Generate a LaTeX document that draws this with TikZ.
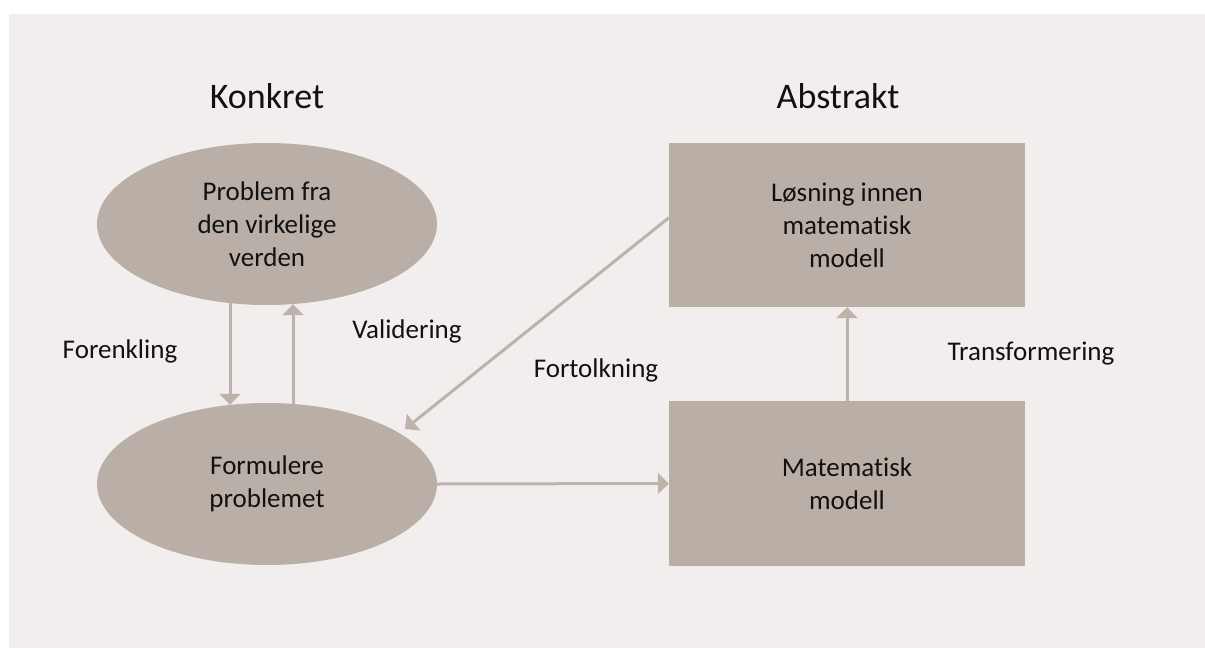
\documentclass[tikz,border=0pt]{standalone}
\usepackage{fontspec}
\setmainfont{Carlito}[Ligatures={NoCommon}]
\usetikzlibrary{shapes.geometric,arrows.meta}
\definecolor{bgc}{HTML}{F2EEED}
\definecolor{fillc}{HTML}{B9AFA7}
\definecolor{linec}{HTML}{BDB3AB}
\definecolor{txt}{HTML}{111111}
\tikzset{
  shapefill/.style={fill=fillc, draw=none, inner sep=0pt, align=center, text=txt,
    font=\fontsize{27}{33}\selectfont},
  oval/.style={shapefill, ellipse, minimum width=340pt, minimum height=162pt},
  box/.style={shapefill, rectangle, minimum width=356pt, minimum height=164pt},
  arr/.style={draw=linec, line width=3pt, -{Triangle[length=11pt,width=21pt]}},
  lbl/.style={text=txt, font=\fontsize{27}{33}\selectfont, anchor=base, inner sep=0pt},
  ttl/.style={text=txt, font=\fontsize{36}{40}\selectfont, anchor=base, inner sep=0pt}
}
\begin{document}
\begin{tikzpicture}[x=1pt,y=-1pt]
\useasboundingbox (0,0) rectangle (1205,648);
\fill[white] (0,0) rectangle (1205,648);
\fill[bgc] (9,14) rectangle (1205,648);

\node[ttl] (konkret) at (267,108) {Konkret};
\node[ttl] (abstrakt) at (838,108) {Abstrakt};

\node[oval] (prob) at (267,224) {Problem fra\\den virkelige\\verden};
\node[oval] (form) at (267,484) {Formulere\\problemet};
\node[box] (los) at (847,225) {Løsning innen\\matematisk\\modell};
\node[box, minimum height=165pt] (mat) at (847,483.5) {Matematisk\\modell};

\node[lbl] (forenkling) at (120,358) {Forenkling};
\node[lbl] (validering) at (407,338) {Validering};
\node[lbl] (fortolkning) at (596,377) {Fortolkning};
\node[lbl] (transf) at (1031,360) {Transformering};

\draw[arr] ([xshift=-37pt,yshift=2pt]prob.south) -- ([xshift=-37pt,yshift=-2pt]form.north);
\draw[arr] ([xshift=26pt,yshift=-1pt]form.north) -- ([xshift=26pt,yshift=1pt]prob.south);
\draw[arr] ([yshift=-75pt]los.north west) -- ([xshift=138pt,yshift=55pt]form.center);
\draw[arr] (form.east) -- (mat.west);
\draw[arr] (mat.north) -- (los.south);
\end{tikzpicture}
\end{document}
